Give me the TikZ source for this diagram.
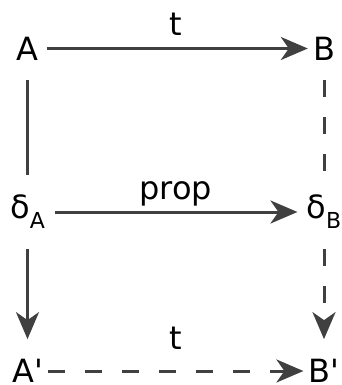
\documentclass[tikz,border=0pt]{standalone}
\usepackage{fontspec}
\setmainfont{DejaVu Sans}[Ligatures=TeXOff]
\usetikzlibrary{arrows.meta}
\definecolor{edgeGray}{HTML}{404040}
\newcommand{\lowsub}[1]{\raisebox{-10pt}{\fontsize{22}{22}\selectfont #1}}

\begin{document}
\begin{tikzpicture}[x=1pt, y=-1pt, font=\fontsize{32}{32}\selectfont,
    obj/.style={inner xsep=5pt, inner ysep=20pt},
    ln/.style={line width=3pt, color=edgeGray},
    arr/.style={ln, -{Stealth[length=27pt, width=23pt, inset=8pt]}},
    dsh/.style={dash pattern=on 17pt off 20pt},
    lbl/.style={above=11pt, inner sep=0pt, text depth=0pt, text=black}]
  \useasboundingbox (0,0) rectangle (342,385);

  % objects
  \node[obj] (A)  at (27.5, 48.5) {A};
  \node[obj] (B)  at (324, 48.5)  {B};
  \node[obj] (dA) at (27.5, 212)  {δ\lowsub{A}};
  \node[obj] (dB) at (324, 212)   {δ\lowsub{B}};
  \node[obj] (A2) at (27.5, 371)  {A'};
  \node[obj] (B2) at (324, 371)   {B'};

  % rows
  \draw[arr, shorten <=3pt] (A) -- (B) node[lbl, midway] {t};
  \draw[arr, shorten <=5pt, shorten >=4pt] (dA) -- (dB) node[lbl, midway] {prop};
  \draw[arr, dsh] (A2) -- (B2) node[lbl, midway, above=9pt] {t};

  % columns
  \draw[ln] (A) -- (dA);
  \draw[arr] (dA) -- (A2);
  \draw[ln, dsh] (B) -- (dB);
  \draw[arr, dsh] (dB) -- (B2);
\end{tikzpicture}
\end{document}
